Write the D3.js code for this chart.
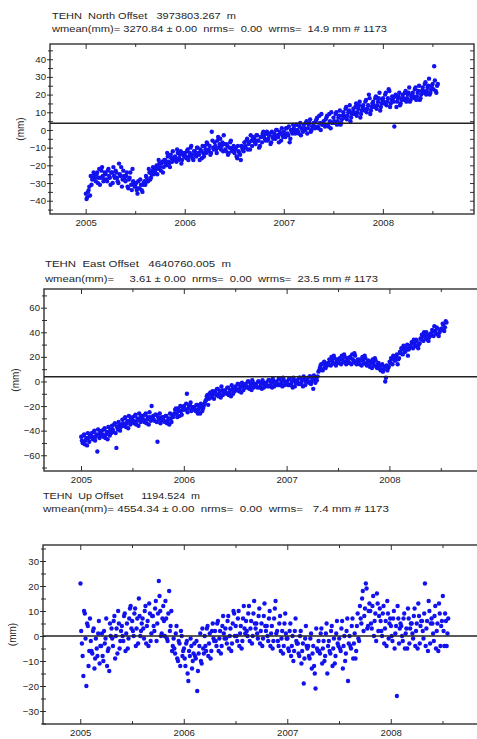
<!DOCTYPE html>
<html><head><meta charset="utf-8">
<script src="https://cdn.jsdelivr.net/npm/d3@7"></script>
<style>body{margin:0;background:#fff} text{font-family:"Liberation Sans",Arial,sans-serif;fill:#262626}</style>
</head><body><svg id="c" width="477" height="739"></svg>
<script>
// Epochs (decimal year), shared by all three components
const epochs = [
2005.002,2005.016,2005.030,2005.044,2005.059,2005.073,2005.087,
2005.102,2005.116,2005.130,2005.144,2005.159,2005.173,2005.187,
2005.202,2005.216,2005.230,2005.244,2005.259,2005.273,2005.287,
2005.302,2005.316,2005.330,2005.344,2005.359,2005.373,2005.387,
2005.402,2005.416,2005.430,2005.444,2005.459,2005.473,2005.487,
2005.502,2005.516,2005.530,2005.544,2005.559,2005.573,2005.587,
2005.602,2005.616,2005.630,2005.644,2005.659,2005.673,2005.687,
2005.702,2005.716,2005.730,2005.744,2005.759,2005.773,2005.787,
2005.802,2005.816,2005.830,2005.844,2005.859,2005.873,2005.887,
2005.902,2005.916,2005.930,2005.944,2005.959,2005.973,2005.987,
2006.002,2006.016,2006.030,2006.044,2006.059,2006.073,2006.087,
2006.102,2006.116,2006.130,2006.144,2006.159,2006.173,2006.187,
2006.202,2006.216,2006.230,2006.244,2006.259,2006.273,2006.287,
2006.302,2006.316,2006.330,2006.344,2006.359,2006.373,2006.387,
2006.402,2006.416,2006.430,2006.444,2006.459,2006.473,2006.487,
2006.502,2006.516,2006.530,2006.544,2006.559,2006.573,2006.587,
2006.602,2006.616,2006.630,2006.644,2006.659,2006.673,2006.687,
2006.702,2006.716,2006.730,2006.744,2006.759,2006.773,2006.787,
2006.802,2006.816,2006.830,2006.844,2006.859,2006.873,2006.887,
2006.902,2006.916,2006.930,2006.944,2006.959,2006.973,2006.987,
2007.002,2007.016,2007.030,2007.044,2007.059,2007.073,2007.087,
2007.102,2007.116,2007.130,2007.144,2007.159,2007.173,2007.187,
2007.202,2007.216,2007.230,2007.244,2007.259,2007.273,2007.287,
2007.302,2007.316,2007.330,2007.344,2007.359,2007.373,2007.387,
2007.402,2007.416,2007.430,2007.444,2007.459,2007.473,2007.487,
2007.502,2007.516,2007.530,2007.544,2007.559,2007.573,2007.587,
2007.602,2007.616,2007.630,2007.644,2007.659,2007.673,2007.687,
2007.702,2007.716,2007.730,2007.744,2007.759,2007.773,2007.787,
2007.802,2007.816,2007.830,2007.844,2007.859,2007.873,2007.887,
2007.902,2007.916,2007.930,2007.944,2007.959,2007.973,2007.987,
2008.002,2008.016,2008.030,2008.044,2008.059,2008.073,2008.087,
2008.102,2008.116,2008.130,2008.144,2008.159,2008.173,2008.187,
2008.202,2008.216,2008.230,2008.244,2008.259,2008.273,2008.287,
2008.302,2008.316,2008.330,2008.344,2008.359,2008.373,2008.387,
2008.402,2008.416,2008.430,2008.444,2008.459,2008.473,2008.487,
2008.503,2008.518,2008.533,2008.548,
2005.009,2005.023,2005.037,2005.051,2005.066,2005.080,2005.094,
2005.109,2005.123,2005.137,2005.151,2005.166,2005.180,2005.194,
2005.209,2005.223,2005.237,2005.251,2005.266,2005.280,2005.294,
2005.309,2005.323,2005.337,2005.351,2005.366,2005.380,2005.394,
2005.409,2005.423,2005.437,2005.451,2005.466,2005.480,2005.494,
2005.509,2005.523,2005.537,2005.551,2005.566,2005.580,2005.594,
2005.609,2005.623,2005.637,2005.651,2005.666,2005.680,2005.694,
2005.709,2005.723,2005.737,2005.751,2005.766,2005.780,2005.794,
2005.809,2005.823,2005.837,2005.851,2005.866,2005.880,2005.894,
2005.909,2005.923,2005.937,2005.951,2005.966,2005.980,2005.994,
2006.009,2006.023,2006.037,2006.051,2006.066,2006.080,2006.094,
2006.109,2006.123,2006.137,2006.151,2006.166,2006.180,2006.194,
2006.209,2006.223,2006.237,2006.251,2006.266,2006.280,2006.294,
2006.309,2006.323,2006.337,2006.351,2006.366,2006.380,2006.394,
2006.409,2006.423,2006.437,2006.451,2006.466,2006.480,2006.494,
2006.509,2006.523,2006.537,2006.551,2006.566,2006.580,2006.594,
2006.609,2006.623,2006.637,2006.651,2006.666,2006.680,2006.694,
2006.709,2006.723,2006.737,2006.751,2006.766,2006.780,2006.794,
2006.809,2006.823,2006.837,2006.851,2006.866,2006.880,2006.894,
2006.909,2006.923,2006.937,2006.951,2006.966,2006.980,2006.994,
2007.009,2007.023,2007.037,2007.051,2007.066,2007.080,2007.094,
2007.109,2007.123,2007.137,2007.151,2007.166,2007.180,2007.194,
2007.209,2007.223,2007.237,2007.251,2007.266,2007.280,2007.294,
2007.309,2007.323,2007.337,2007.351,2007.366,2007.380,2007.394,
2007.409,2007.423,2007.437,2007.451,2007.466,2007.480,2007.494,
2007.509,2007.523,2007.537,2007.551,2007.566,2007.580,2007.594,
2007.609,2007.623,2007.637,2007.651,2007.666,2007.680,2007.694,
2007.709,2007.723,2007.737,2007.751,2007.766,2007.780,2007.794,
2007.809,2007.823,2007.837,2007.851,2007.866,2007.880,2007.894,
2007.909,2007.923,2007.937,2007.951,2007.966,2007.980,2007.994,
2008.009,2008.023,2008.037,2008.051,2008.066,2008.080,2008.094,
2008.109,2008.123,2008.137,2008.151,2008.166,2008.180,2008.194,
2008.209,2008.223,2008.237,2008.251,2008.266,2008.280,2008.294,
2008.309,2008.323,2008.337,2008.351,2008.366,2008.380,2008.394,
2008.409,2008.423,2008.437,2008.451,2008.466,2008.480,2008.494,
2008.510,2008.525,2008.540,2008.555];

// North offsets (mm)
const north = [
-36,-38,-34,-37,-31,-27,-25,
-29,-24,-27,-31,-23,-26,-28,
-25,-29,-22,-27,-24,-30,-26,
-23,-27,-30,-25,-21,-28,-26,
-29,-24,-33,-27,-31,-22,-30,
-32,-34,-29,-33,-31,-35,-30,
-31,-27,-29,-24,-27,-23,-25,
-24,-20,-22,-19,-23,-18,-21,
-17,-20,-15,-19,-14,-18,-16,
-15,-18,-13,-16,-12,-17,-14,
-13,-16,-11,-15,-10,-14,-17,
-12,-15,-10,-14,-11,-16,-13,
-9,-13,-8,-11,-14,-1,-10,
-7,-11,-6,-10,-5,-9,-12,
-8,-12,-9,-13,-7,-11,-10,
-13,-10,-16,-12,-14,-9,-11,
-7,-10,-5,-8,-11,-6,-4,
-5,-8,-3,-6,-9,-4,-2,
-3,-6,-1,-5,-2,-7,-4,
-2,-5,0,-4,-1,-6,-3,
-1,-4,1,-3,-7,0,-2,
1,-2,3,-1,2,-3,0,
3,0,5,1,4,-1,2,
4,1,6,2,8,0,3,
5,2,7,3,9,1,4,
7,4,10,5,8,3,6,
10,7,13,8,11,5,9,
12,9,15,10,14,7,11,
14,11,17,12,20,9,13,
16,13,19,14,18,11,15,
18,15,21,16,23,13,17,
18,2,20,16,19,14,17,
20,17,22,18,21,16,19,
21,18,24,19,22,17,20,
24,21,27,22,25,20,23,
26,36,22,25,
-39,-35,-32,-26,-28,-24,-27,
-25,-30,-22,-27,-21,-29,-24,
-28,-23,-26,-31,-24,-21,-27,
-24,-29,-19,-26,-32,-23,-28,
-26,-32,-28,-24,-34,-29,-32,
-30,-36,-33,-28,-34,-31,-29,
-26,-29,-22,-28,-25,-21,-24,
-22,-25,-17,-21,-19,-24,-17,
-19,-13,-18,-21,-16,-12,-17,
-16,-11,-17,-14,-19,-13,-15,
-15,-12,-17,-13,-9,-16,-12,
-14,-10,-13,-17,-12,-9,-15,
-11,-7,-12,-9,-13,-6,-11,
-9,-13,-4,-8,-11,-7,-3,
-11,-8,-14,-10,-6,-12,-9,
-11,-15,-9,-13,-17,-10,-12,
-9,-6,-11,-7,-3,-9,-6,
-7,-3,-6,-10,-4,-7,-1,
-5,-2,-6,-3,-8,-1,-5,
-4,0,-3,-7,-2,1,-4,
-3,1,-2,2,-5,-1,3,
-1,3,0,-2,4,1,-1,
1,4,-2,3,6,0,2,
2,5,7,1,4,9,3,
3,6,8,2,5,10,4,
5,9,3,7,11,4,8,
8,12,6,10,14,7,10,
10,13,8,12,16,9,13,
12,16,10,14,18,11,15,
14,18,12,16,21,13,17,
16,20,14,18,22,15,19,
16,19,13,18,21,15,18,
18,21,16,20,24,17,20,
19,23,17,21,25,18,22,
22,26,20,24,29,21,25,
23,28,21,26];

// East offsets (mm)
const east = [
-45,-50,-43,-48,-52,-46,-44,
-42,-47,-40,-45,-57,-43,-41,
-40,-45,-38,-43,-47,-41,-39,
-36,-41,-34,-54,-39,-35,-37,
-31,-36,-29,-34,-38,-32,-30,
-29,-34,-27,-32,-36,-30,-28,
-28,-33,-26,-31,-35,-29,-20,
-28,-32,-27,-49,-31,-34,-29,
-29,-33,-28,-32,-35,-30,-27,
-27,-23,-26,-22,-28,-24,-21,
-20,-23,-10,-22,-19,-24,-21,
-21,-24,-19,-23,-26,-20,-22,
-18,-15,-11,-14,-9,-12,-10,
-8,-11,-6,-10,-13,-7,-9,
-7,-10,-5,-9,-12,-6,-8,
-4,-7,-2,-6,-9,-3,-5,
-2,-5,0,-4,-7,-1,-3,
-2,-5,0,-4,-6,-1,-3,
-1,-4,1,-3,-5,0,-2,
0,-3,2,-2,-4,1,-1,
0,-3,2,-2,-5,1,-1,
1,-2,3,-1,-4,2,0,
2,-1,4,0,-6,3,1,
4,9,13,10,15,12,14,
15,18,13,17,21,14,16,
16,19,14,18,22,15,17,
16,20,14,18,23,15,17,
15,18,13,17,21,14,16,
13,16,11,15,19,12,14,
12,9,14,10,0,13,11,
16,19,14,20,17,22,18,
24,27,22,28,25,30,26,
29,32,27,31,34,28,30,
35,38,33,37,40,34,36,
39,42,37,41,44,38,40,
43,47,41,49,
-48,-44,-51,-46,-42,-49,-45,
-45,-41,-48,-43,-39,-46,-44,
-43,-39,-46,-41,-37,-44,-42,
-39,-35,-42,-37,-33,-40,-36,
-34,-30,-37,-32,-28,-35,-33,
-32,-28,-35,-30,-26,-33,-31,
-31,-27,-34,-29,-25,-32,-30,
-31,-27,-33,-29,-26,-32,-30,
-32,-28,-34,-30,-26,-33,-29,
-26,-22,-29,-24,-20,-27,-23,
-22,-18,-25,-20,-17,-23,-21,
-23,-19,-26,-21,-18,-24,-20,
-16,-12,-19,-10,-13,-8,-14,
-10,-6,-12,-8,-4,-11,-9,
-9,-5,-11,-7,-3,-10,-8,
-6,-2,-8,-4,-1,-7,-5,
-4,0,-6,-2,1,-5,-3,
-4,0,-5,-2,1,-5,-3,
-3,1,-4,-1,2,-4,-2,
-2,2,-3,0,3,-3,-1,
-2,2,-3,0,3,-4,-1,
-1,3,-2,1,4,-3,0,
0,4,-2,2,5,-1,1,
8,11,14,9,16,11,13,
14,17,20,15,19,13,18,
15,18,21,16,20,14,19,
15,19,22,16,21,14,18,
14,17,20,15,19,13,17,
12,15,18,13,17,11,15,
10,13,8,12,3,9,12,
15,18,21,17,20,14,19,
23,26,29,24,27,21,27,
28,31,34,29,33,27,31,
34,37,40,35,38,33,37,
38,41,45,39,43,37,42,
42,46,44,48];

// Up offsets (mm)
const up = [
21,-3,-16,9,-20,4,-6,
-2,-7,3,-9,-5,1,-11,
-4,-8,2,-1,-12,-5,5,
3,-4,8,0,-7,5,-2,
4,-2,9,1,-5,7,12,
6,0,11,3,-3,8,2,
7,-1,12,4,-4,9,1,
8,2,14,5,22,10,1,
12,0,7,-2,18,4,-6,
-1,-7,4,-10,-3,2,-8,
-5,-12,-2,-18,-8,-4,-10,
-3,-9,-22,-7,1,-11,-5,
0,-6,4,-3,-9,2,-1,
2,-4,6,-1,-7,4,1,
3,-3,8,0,-6,5,9,
4,-2,10,1,-5,7,3,
6,0,12,3,-3,9,5,
5,-1,11,2,-4,8,4,
4,-2,10,1,-5,7,14,
2,-4,8,-1,-7,5,1,
-1,-6,5,-4,-10,2,-2,
-3,-8,2,-6,-19,-1,-4,
-4,-9,1,-7,-12,-21,-5,
-2,-7,3,-5,-10,1,-15,
-2,-7,4,-5,-11,1,-3,
-1,-6,6,-4,-10,2,-18,
0,-5,7,-3,-9,4,-1,
12,5,18,8,21,3,10,
10,3,16,6,-2,13,8,
6,0,12,3,-4,9,5,
4,-2,10,1,-24,7,3,
4,-2,9,1,-5,7,3,
5,-1,11,2,-5,8,4,
6,-1,21,3,-6,10,5,
5,-2,12,2,-6,9,4,
16,-4,6,1,
2,-8,10,-1,5,-12,7,
-6,2,-13,-1,-8,6,-4,
1,-10,-3,7,-6,-14,0,
-1,6,-9,3,10,-5,2,
0,8,-6,5,-1,11,3,
2,9,-4,7,15,0,5,
3,10,-3,6,13,-2,8,
4,11,-2,9,16,0,7,
6,14,-1,9,2,10,-4,
-5,1,-9,-2,-12,0,-6,
-9,-3,-15,-6,-1,-13,-7,
-8,-2,-14,-4,-10,3,-7,
-4,3,-8,1,-6,5,-2,
-2,5,-6,2,-4,8,-1,
-1,6,-5,3,-3,10,0,
0,7,-4,4,-2,12,1,
2,9,-2,6,0,14,3,
1,8,-3,5,-1,13,2,
0,7,-4,4,-2,11,1,
-2,5,-6,2,-4,9,-1,
-5,2,-8,0,-6,7,-3,
-7,0,-11,-3,-9,4,-5,
-8,-1,-13,-4,-15,3,-6,
-6,1,-11,-2,-8,5,-4,
-6,2,-12,-1,-8,6,-4,
-5,3,-13,0,-7,7,-3,
-4,4,-9,1,-6,9,-2,
7,15,2,11,19,4,13,
5,12,0,9,17,2,11,
2,9,-3,6,14,-1,7,
0,7,-5,4,12,-3,5,
0,7,-5,3,11,-3,5,
1,8,-4,5,13,-3,6,
2,9,-4,6,14,-3,7,
1,8,-5,5,13,-4,6,
2,9,-4,7];

const yearTicks = [2005, 2006, 2007, 2008];
const halfYearTicks = [2005.5, 2006.5, 2007.5, 2008.5];
const xDomain = [2004.64, 2008.92];

const titles = ["TEHN  North Offset   3973803.267  m",
                "TEHN  East Offset   4640760.005  m",
                "TEHN  Up Offset      1194.524  m"];
const stats = ["wmean(mm)= 3270.84 \u00b1 0.00  nrms=  0.00  wrms=  14.9 mm # 1173",
               "wmean(mm)=     3.61 \u00b1 0.00  nrms=  0.00  wrms=  23.5 mm # 1173",
               "wmean(mm)= 4554.34 \u00b1 0.00  nrms=  0.00  wrms=   7.4 mm # 1173"];
const refLines = [3.8, 3.9, 0];
const yDomains = [[-47.5, 48.6], [-72.8, 75.2], [-35.2, 36.4]];
const yMajor = [[-40,-30,-20,-10,0,10,20,30,40], [-60,-40,-20,0,20,40,60], [-30,-20,-10,0,10,20,30]];
const yMinor = [[-45,-35,-25,-15,-5,5,15,25,35,45], [-70,-50,-30,-10,10,30,50,70], [-35,-25,-15,-5,5,15,25,35]];

// layout
const layout = [
  {l:50, r:474, t:44, b:214, tx:52, t1:18.5, t2:32, tw1:184, tw2:335, ylx:24},
  {l:44, r:484, t:289, b:471, tx:45, t1:267, t2:281.5, tw1:186, tw2:333, ylx:19},
  {l:43, r:486, t:545, b:724, tx:43, t1:498.5, t2:512, tw1:157, tw2:346, ylx:16}
];
const series = [north, east, up];

const svg = d3.select("#c");
layout.forEach((L, i) => {
  const x = d3.scaleLinear().domain(xDomain).range([L.l, L.r]);
  const y = d3.scaleLinear().domain(yDomains[i]).range([L.b, L.t]);
  const g = svg.append("g");

  g.append("text").attr("x", L.tx).attr("y", L.t1).attr("font-size", 9.6)
    .attr("xml:space","preserve").style("white-space","pre")
    .attr("textLength", L.tw1).attr("lengthAdjust","spacingAndGlyphs").text(titles[i]);
  g.append("text").attr("x", L.tx).attr("y", L.t2).attr("font-size", 9.6)
    .attr("xml:space","preserve").style("white-space","pre")
    .attr("textLength", L.tw2).attr("lengthAdjust","spacingAndGlyphs").text(stats[i]);

  // points
  const pts = epochs.map((t, k) => ({t, v: series[i][k]}));
  g.append("g").selectAll("circle").data(pts).join("circle")
    .attr("cx", d => x(d.t)).attr("cy", d => y(d.v)).attr("r", 2.2)
    .attr("fill", "#1212ee");

  // reference line
  g.append("line").attr("x1", L.l).attr("x2", L.r)
    .attr("y1", y(refLines[i])).attr("y2", y(refLines[i]))
    .attr("stroke", "#222").attr("stroke-width", 1.4);

  const font = a => a.selectAll("text").attr("font-size", 9.6).attr("fill", "#262626");
  const clean = a => { a.select(".domain").remove(); a.selectAll("line").attr("stroke", "#333"); };

  // bottom axis
  g.append("g").attr("transform", `translate(0,${L.b})`)
    .call(d3.axisBottom(x).tickValues(yearTicks).tickSize(-5).tickPadding(5).tickFormat(d3.format("d")))
    .call(clean).call(font);
  g.append("g").attr("transform", `translate(0,${L.b})`)
    .call(d3.axisBottom(x).tickValues(halfYearTicks).tickSize(-3).tickFormat(""))
    .call(clean);
  // top axis
  g.append("g").attr("transform", `translate(0,${L.t})`)
    .call(d3.axisTop(x).tickValues(yearTicks).tickSize(-5).tickFormat(""))
    .call(clean);
  g.append("g").attr("transform", `translate(0,${L.t})`)
    .call(d3.axisTop(x).tickValues(halfYearTicks).tickSize(-3).tickFormat(""))
    .call(clean);
  // left axis
  g.append("g").attr("transform", `translate(${L.l},0)`)
    .call(d3.axisLeft(y).tickValues(yMajor[i]).tickSize(3).tickPadding(1).tickFormat(d3.format("d")))
    .call(clean).call(font);
  g.append("g").attr("transform", `translate(${L.l},0)`)
    .call(d3.axisLeft(y).tickValues(yMajor[i].concat(yMinor[i])).tickSize(-3).tickFormat(""))
    .call(clean);
  g.append("g").attr("transform", `translate(${L.l},0)`)
    .call(d3.axisLeft(y).tickValues(yMinor[i]).tickSize(2).tickFormat(""))
    .call(clean);
  // right axis
  g.append("g").attr("transform", `translate(${L.r},0)`)
    .call(d3.axisRight(y).tickValues(yMajor[i].concat(yMinor[i])).tickSize(-4).tickFormat(""))
    .call(clean);

  // frame
  g.append("rect").attr("x", L.l).attr("y", L.t).attr("width", L.r - L.l).attr("height", L.b - L.t)
    .attr("fill", "none").attr("stroke", "#222").attr("stroke-width", 1.3);

  // y label
  g.append("text").attr("transform", `translate(${L.ylx},${(L.t + L.b) / 2}) rotate(-90)`)
    .attr("text-anchor", "middle").attr("font-size", 10).text("(mm)");
});
</script></body></html>
